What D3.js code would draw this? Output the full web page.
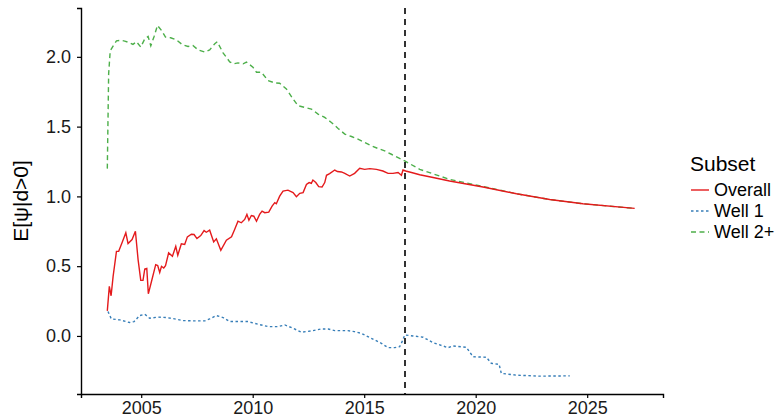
<!DOCTYPE html>
<html>
<head>
<meta charset="utf-8">
<script src="https://cdn.jsdelivr.net/npm/d3@7"></script>
<style>
  body { margin: 0; background: #fff; }
  svg text { font-family: "Liberation Sans", Arial, sans-serif; }
</style>
</head>
<body>
<div id="chart"></div>
<script>
// values: [year, E[psi|d>0]]
var overall = [
  [2003.48, 0.18], [2003.57, 0.355], [2003.65, 0.288], [2003.74, 0.427], [2003.89, 0.606],
  [2003.99, 0.606], [2004.14, 0.667], [2004.31, 0.739], [2004.41, 0.662], [2004.59, 0.691],
  [2004.74, 0.750], [2004.86, 0.547], [2004.98, 0.398], [2005.08, 0.398], [2005.16, 0.480],
  [2005.25, 0.484], [2005.32, 0.302], [2005.48, 0.403], [2005.65, 0.511], [2005.74, 0.504],
  [2005.83, 0.455], [2005.91, 0.499], [2006.01, 0.487], [2006.09, 0.504], [2006.23, 0.595],
  [2006.40, 0.571], [2006.55, 0.642], [2006.64, 0.578], [2006.80, 0.660], [2006.95, 0.655],
  [2007.07, 0.710], [2007.25, 0.729], [2007.37, 0.727], [2007.50, 0.698], [2007.67, 0.719],
  [2007.82, 0.755], [2007.92, 0.743], [2008.07, 0.758], [2008.25, 0.674], [2008.37, 0.696],
  [2008.57, 0.614], [2008.82, 0.686], [2009.05, 0.710], [2009.19, 0.763], [2009.34, 0.822],
  [2009.49, 0.811], [2009.64, 0.835], [2009.74, 0.871], [2009.83, 0.829], [2009.94, 0.863],
  [2010.05, 0.858], [2010.17, 0.822], [2010.31, 0.871], [2010.42, 0.894], [2010.54, 0.883],
  [2010.72, 0.887], [2010.87, 0.930], [2010.99, 0.955], [2011.06, 0.947], [2011.21, 1.002],
  [2011.36, 1.038], [2011.58, 1.045], [2011.81, 1.027], [2011.96, 0.998], [2012.11, 1.022],
  [2012.26, 1.027], [2012.41, 1.086], [2012.53, 1.099], [2012.63, 1.094], [2012.70, 1.117],
  [2012.83, 1.099], [2012.96, 1.070], [2013.11, 1.067], [2013.23, 1.099], [2013.31, 1.151],
  [2013.45, 1.163], [2013.68, 1.189], [2013.80, 1.178], [2013.98, 1.175], [2014.13, 1.165],
  [2014.35, 1.146], [2014.57, 1.165], [2014.80, 1.201], [2015.02, 1.194], [2015.25, 1.199],
  [2015.55, 1.194], [2015.84, 1.182], [2016.07, 1.165], [2016.29, 1.165], [2016.52, 1.171],
  [2016.67, 1.151], [2016.74, 1.189], [2016.86, 1.182], [2017.12, 1.171], [2017.49, 1.155],
  [2018.09, 1.135], [2018.83, 1.110], [2020.33, 1.067], [2021.83, 1.019], [2023.32, 0.978],
  [2024.81, 0.947], [2027.13, 0.914]
];

var well1 = [
  [2003.51, 0.175], [2003.66, 0.122], [2004.04, 0.115], [2004.48, 0.096], [2004.68, 0.103],
  [2004.93, 0.146], [2005.16, 0.156], [2005.38, 0.127], [2005.75, 0.135], [2006.13, 0.132],
  [2006.50, 0.122], [2006.87, 0.110], [2007.40, 0.108], [2007.85, 0.108], [2008.07, 0.122],
  [2008.37, 0.146], [2008.67, 0.132], [2008.97, 0.103], [2009.34, 0.103], [2009.79, 0.103],
  [2010.24, 0.084], [2010.69, 0.067], [2011.14, 0.067], [2011.44, 0.079], [2011.81, 0.055],
  [2012.18, 0.027], [2012.63, 0.036], [2013.08, 0.050], [2013.38, 0.050], [2013.68, 0.038],
  [2014.27, 0.038], [2014.57, 0.031], [2014.87, 0.019], [2015.32, -0.017], [2015.77, -0.053],
  [2016.07, -0.084], [2016.37, -0.084], [2016.59, -0.077], [2016.70, -0.041], [2016.82, 0.007],
  [2017.19, 0.000], [2017.64, -0.009], [2018.09, -0.048], [2018.76, -0.084], [2018.98, -0.072],
  [2019.58, -0.081], [2019.88, -0.149], [2020.48, -0.153], [2020.70, -0.196], [2021.05, -0.204],
  [2021.15, -0.268], [2021.83, -0.281], [2022.87, -0.288], [2024.22, -0.286]
];

var well2 = [
  [2003.48, 1.199], [2003.54, 1.878], [2003.61, 2.043], [2003.71, 2.070], [2003.89, 2.115],
  [2004.11, 2.119], [2004.26, 2.113], [2004.48, 2.101], [2004.63, 2.089], [2004.79, 2.108],
  [2004.98, 2.070], [2005.16, 2.129], [2005.31, 2.146], [2005.43, 2.079], [2005.57, 2.142],
  [2005.73, 2.225], [2005.91, 2.189], [2006.09, 2.142], [2006.32, 2.137], [2006.58, 2.122],
  [2006.83, 2.089], [2007.10, 2.074], [2007.32, 2.081], [2007.55, 2.050], [2007.85, 2.034],
  [2008.07, 2.050], [2008.30, 2.094], [2008.41, 2.108], [2008.67, 2.029], [2008.97, 1.964],
  [2009.15, 1.950], [2009.34, 1.957], [2009.57, 1.950], [2009.72, 1.962], [2010.01, 1.926],
  [2010.17, 1.890], [2010.39, 1.890], [2010.69, 1.830], [2010.99, 1.813], [2011.21, 1.811],
  [2011.51, 1.770], [2011.81, 1.698], [2012.03, 1.650], [2012.33, 1.638], [2012.63, 1.626],
  [2012.93, 1.590], [2013.23, 1.566], [2013.53, 1.530], [2013.83, 1.487], [2014.13, 1.446],
  [2014.43, 1.429], [2014.72, 1.410], [2015.02, 1.386], [2015.32, 1.362], [2015.62, 1.343],
  [2015.92, 1.326], [2016.22, 1.302], [2016.52, 1.278], [2016.82, 1.254], [2017.49, 1.194],
  [2018.83, 1.122], [2020.93, 1.050], [2021.83, 1.019], [2023.32, 0.978], [2024.81, 0.947],
  [2027.13, 0.914]
];

var seriesNames = ["Overall", "Well 1", "Well 2+"];
var xTicks = [2005, 2010, 2015, 2020, 2025];
var yTicks = [0.0, 0.5, 1.0, 1.5, 2.0];
var cutoffYear = 2016.83;

var width = 780, height = 420;
var margin = {top: 8, right: 117, bottom: 26, left: 81};

var colors = {"Overall": "#e41a1c", "Well 1": "#377eb8", "Well 2+": "#4daf4a"};
var dashes = {"Overall": null, "Well 1": "2.5,2.5", "Well 2+": "5,3.5"};

var svg = d3.select("#chart").append("svg")
  .attr("width", width)
  .attr("height", height);

var x = d3.scaleLinear()
  .domain([2002.3, 2028.4])
  .range([margin.left, width - margin.right]);
var y = d3.scaleLinear()
  .domain([-0.416, 2.35])
  .range([height - margin.bottom, margin.top]);

var line = d3.line()
  .x(function(d) { return x(d[0]); })
  .y(function(d) { return y(d[1]); });

var data = [
  {name: "Overall", values: overall},
  {name: "Well 1", values: well1},
  {name: "Well 2+", values: well2}
];

// draw green first so red stays on top where they overlap
var order = [data[2], data[1], data[0]];
svg.selectAll("path.series")
  .data(order)
  .enter()
  .append("path")
  .attr("class", "series")
  .attr("d", function(d) { return line(d.values); })
  .attr("fill", "none")
  .attr("stroke", function(d) { return colors[d.name]; })
  .attr("stroke-width", 1.4)
  .attr("stroke-dasharray", function(d) { return dashes[d.name]; });

// cutoff line
svg.append("line")
  .attr("x1", x(cutoffYear)).attr("x2", x(cutoffYear))
  .attr("y1", margin.top).attr("y2", height - margin.bottom)
  .attr("stroke", "#000")
  .attr("stroke-width", 1.6)
  .attr("stroke-dasharray", "6,5");

// axes
var xAxis = svg.append("g")
  .attr("transform", "translate(0," + (height - margin.bottom) + ")")
  .call(d3.axisBottom(x).tickValues(xTicks).tickFormat(d3.format("d")).tickSizeOuter(0).tickSize(4).tickPadding(3));
var yAxis = svg.append("g")
  .attr("transform", "translate(" + margin.left + ",0)")
  .call(d3.axisLeft(y).tickValues(yTicks).tickFormat(d3.format(".1f")).tickSizeOuter(0).tickSize(4).tickPadding(6));

[xAxis, yAxis].forEach(function(a) {
  a.select(".domain").attr("stroke", "#000").attr("stroke-width", 1.4);
  a.selectAll(".tick line").attr("stroke", "#000").attr("stroke-width", 1.2);
  a.selectAll(".tick text").attr("fill", "#1a1a1a").style("font-size", "18px");
});

svg.append("text")
  .attr("transform", "translate(28," + ((margin.top + height - margin.bottom) / 2) + ") rotate(-90)")
  .attr("text-anchor", "middle")
  .style("font-size", "21px")
  .attr("fill", "#000")
  .text("E[ψ|d>0]");

// legend
var legend = svg.append("g").attr("transform", "translate(690,0)");
legend.append("text")
  .attr("x", 0).attr("y", 171)
  .style("font-size", "21px")
  .text("Subset");
var items = legend.selectAll("g.item")
  .data(seriesNames)
  .enter()
  .append("g")
  .attr("class", "item")
  .attr("transform", function(d, i) { return "translate(0," + (190 + i * 21) + ")"; });
items.append("line")
  .attr("x1", 1).attr("x2", 19)
  .attr("stroke", function(d) { return colors[d]; })
  .attr("stroke-width", 1.4)
  .attr("stroke-dasharray", function(d) { return dashes[d]; });
items.append("text")
  .attr("x", 24).attr("dy", "0.35em")
  .style("font-size", "18px")
  .text(function(d) { return d; });
</script>
</body>
</html>
